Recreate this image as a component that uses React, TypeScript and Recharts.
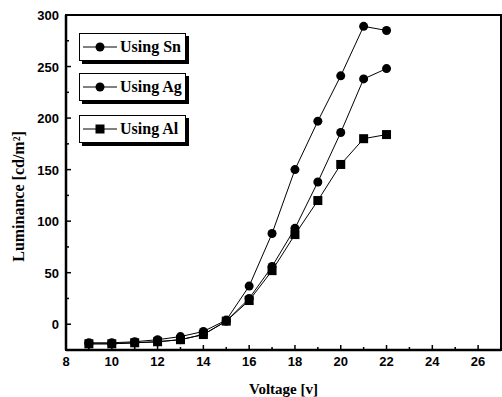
import { LineChart, Line, XAxis, YAxis, ReferenceArea } from 'recharts';

const voltage = [9, 10, 11, 12, 13, 14, 15, 16, 17, 18, 19, 20, 21, 22];
const usingSn = [-18, -18, -17, -15, -12, -7, 4, 37, 88, 150, 197, 241, 289, 285];
const usingAg = [-19, -19, -18, -17, -15, -10, 3, 25, 56, 93, 138, 186, 238, 248];
const usingAl = [-19, -19, -18, -17, -15, -10, 3, 23, 52, 87, 120, 155, 180, 184];

const xTicks = [8, 9, 10, 11, 12, 13, 14, 15, 16, 17, 18, 19, 20, 21, 22, 23, 24, 25, 26, 27];
const xLabels = [8, 10, 12, 14, 16, 18, 20, 22, 24, 26];
const yTicks = [0, 25, 50, 75, 100, 125, 150, 175, 200, 225, 250, 275, 300];
const yLabels = [0, 50, 100, 150, 200, 250, 300];

const legendItems = [
  { name: 'Using Sn', shape: 'circle' },
  { name: 'Using Ag', shape: 'circle' },
  { name: 'Using Al', shape: 'square' },
];

const rows = voltage.map((v, i) => ({
  v,
  sn: usingSn[i],
  ag: usingAg[i],
  al: usingAl[i],
}));

const tickFont = { fontFamily: '"Liberation Sans", Arial, sans-serif', fontWeight: 700, fontSize: 13, fill: '#000' };
const serif = '"Liberation Serif", "Times New Roman", serif';

const XTick = ({ x, y, payload }: any) => {
  const major = xLabels.includes(payload.value);
  return (
    <g>
      <line x1={x} x2={x} y1={y} y2={y - (major ? 5 : 3)} stroke="#000" strokeWidth={1.5} />
      {major && (
        <text x={x} y={y + 16} textAnchor="middle" {...tickFont}>
          {payload.value}
        </text>
      )}
    </g>
  );
};

const YTick = ({ x, y, payload }: any) => {
  const major = yLabels.includes(payload.value);
  return (
    <g>
      <line x1={x} x2={x + (major ? 5 : 3)} y1={y} y2={y} stroke="#000" strokeWidth={1.5} />
      {major && (
        <text x={x - 7} y={y + 5} textAnchor="end" {...tickFont}>
          {payload.value}
        </text>
      )}
    </g>
  );
};

const Dot = ({ cx, cy }: any) => <circle cx={cx} cy={cy} r={4.5} fill="#000" />;
const Square = ({ cx, cy }: any) => <rect x={cx - 4.5} y={cy - 4.5} width={9} height={9} fill="#000" />;

// legend: three separate boxes with a hard drop shadow, like the original figure
const LegendBoxes = () => (
  <div style={{ position: 'absolute', left: 79, top: 33 }}>
    {legendItems.map((item, i) => (
      <div
        key={item.name}
        style={{
          width: 105,
          height: 26,
          marginBottom: i === 0 ? 12 : 14,
          border: '1px solid #000',
          background: '#fff',
          boxShadow: '3px 3px 0 #000',
          display: 'flex',
          alignItems: 'center',
        }}
      >
        <svg width={38} height={26} style={{ marginLeft: 1 }}>
          <line x1={2} x2={36} y1={13} y2={13} stroke="#000" strokeWidth={1} />
          {item.shape === 'circle' ? (
            <circle cx={19} cy={13} r={4.5} fill="#000" />
          ) : (
            <rect x={14.5} y={8.5} width={9} height={9} fill="#000" />
          )}
        </svg>
        <span style={{ fontFamily: serif, fontWeight: 700, fontSize: 16, color: '#000', marginLeft: 1 }}>
          {item.name}
        </span>
      </div>
    ))}
  </div>
);

export default function App() {
  return (
    <div style={{ position: 'absolute', left: 0, top: 0, width: 502, height: 397, background: '#fff' }}>
      <LineChart width={502} height={397} data={rows} margin={{ top: 15, right: 1, bottom: 0, left: 16 }}>
        <ReferenceArea
          x1={8}
          x2={27}
          y1={-25}
          y2={300}
          fill="none"
          stroke="#000"
          strokeWidth={2}
          ifOverflow="visible"
        />
        <XAxis
          dataKey="v"
          type="number"
          domain={[8, 27]}
          ticks={xTicks}
          interval={0}
          allowDataOverflow
          height={47}
          tickSize={0}
          tickMargin={0}
          tickLine={false}
          tick={<XTick />}
          axisLine={{ stroke: '#000', strokeWidth: 2.5 }}
          label={{
            value: 'Voltage [v]',
            position: 'insideBottom',
            offset: 3,
            style: { fontFamily: serif, fontWeight: 700, fontSize: 15, fill: '#000' },
          }}
        />
        <YAxis
          type="number"
          domain={[-25, 300]}
          ticks={yTicks}
          interval={0}
          allowDataOverflow
          width={50}
          tickSize={0}
          tickMargin={0}
          tickLine={false}
          tick={<YTick />}
          axisLine={{ stroke: '#000', strokeWidth: 2.5 }}
          label={{
            value: 'Luminance [cd/m²]',
            angle: -90,
            position: 'insideLeft',
            offset: 2,
            dy: 14,
            style: { fontFamily: serif, fontWeight: 700, fontSize: 16, fill: '#000', textAnchor: 'middle' },
          }}
        />
        <Line dataKey="sn" stroke="#000" strokeWidth={1} dot={<Dot />} isAnimationActive={false} />
        <Line dataKey="ag" stroke="#000" strokeWidth={1} dot={<Dot />} isAnimationActive={false} />
        <Line dataKey="al" stroke="#000" strokeWidth={1} dot={<Square />} isAnimationActive={false} />
      </LineChart>
      <LegendBoxes />
    </div>
  );
}
